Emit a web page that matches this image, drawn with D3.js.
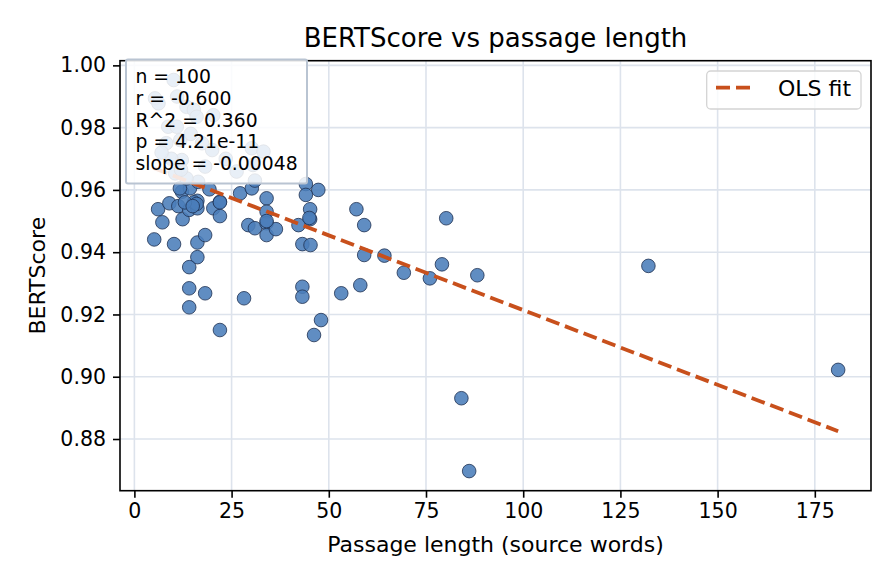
<!DOCTYPE html>
<html>
<head>
<meta charset="utf-8">
<script src="https://cdn.jsdelivr.net/npm/d3@7"></script>
<style>
  html, body { margin: 0; padding: 0; background: #ffffff; }
  svg { display: block; font-family: "DejaVu Sans", sans-serif; }
</style>
</head>
<body>
<svg id="chart" width="896" height="584"></svg>
<script>
// ---- Data ----
const passageLength = [
  80.2, 79.1, 69.3, 76.0, 88.2, 132.2, 181.0, 84.1, 86.1,
  44.1, 47.3, 44.1, 45.2, 45.2, 42.2, 43.2, 45.3, 57.1, 59.1, 59.1, 64.3,
  43.2, 43.2, 53.2, 58.1, 48.0, 46.2,
  6.1, 9.0, 11.3, 7.2, 12.4, 14.1, 16.2, 16.2, 15.3, 12.2, 14.3, 19.3, 20.3,
  22.0, 22.0, 27.2, 30.2, 31.0, 34.0, 34.0, 29.3, 31.0, 34.0, 34.0, 36.4,
  5.1, 10.2, 16.2, 18.2, 16.2, 14.1, 14.1, 18.2, 14.1, 28.2, 22.0, 11.7,
  16.4, 13.4,
  10.1, 5.3, 6.2, 13.4, 15.3, 20.3, 16.0, 8.7, 10.9, 11.8, 8.2, 17.4, 20.0,
  30.2, 33.2, 12.2, 30.5, 18.2, 26.3, 10.5, 12.0, 9.5, 7.0, 23.5, 14.5, 11.0,
  16.0, 13.0, 15.0, 45.0, 34.0, 22.0
];
const bertScore = [
  0.9509, 0.9361, 0.9334, 0.9316, 0.9326, 0.9356, 0.9022, 0.8931, 0.8697,
  0.9619, 0.9600, 0.9584, 0.9538, 0.9506, 0.9487, 0.9426, 0.9423, 0.9538, 0.9487, 0.9391, 0.9389,
  0.9289, 0.9257, 0.9268, 0.9294, 0.9182, 0.9134,
  0.9538, 0.9557, 0.9548, 0.9496, 0.9506, 0.9536, 0.9565, 0.9541, 0.9560, 0.9594, 0.9605, 0.9602, 0.9541,
  0.9562, 0.9516, 0.9589, 0.9605, 0.9630, 0.9573, 0.9530, 0.9487, 0.9477, 0.9493, 0.9455, 0.9474,
  0.9441, 0.9426, 0.9431, 0.9455, 0.9384, 0.9352, 0.9284, 0.9268, 0.9223, 0.9252, 0.9150, 0.9605,
  0.9626, 0.9637,
  0.9953, 0.9894, 0.9878, 0.9867, 0.9857, 0.9840, 0.9835, 0.9803, 0.9803, 0.9760, 0.9750, 0.9750, 0.9728,
  0.9734, 0.9723, 0.9696, 0.9680, 0.9675, 0.9659, 0.9653, 0.9665, 0.9700, 0.9720, 0.9700, 0.9780, 0.9900,
  0.9555, 0.9560, 0.9548, 0.9510, 0.9500, 0.9560
];
const fitParams = [0.9694, -0.00048];          // intercept, slope of the OLS fit
const xTicks = [0, 25, 50, 75, 100, 125, 150, 175];
const yTicks = [0.88, 0.90, 0.92, 0.94, 0.96, 0.98, 1.00];
const statsLines = ["n = 100", "r = -0.600", "R^2 = 0.360", "p = 4.21e-11", "slope = -0.00048"];
const legendLabels = ["OLS fit"];
const titleText = "BERTScore vs passage length";
const xLabelText = "Passage length (source words)";
const yLabelText = "BERTScore";

// ---- Layout ----
const L = 120, R = 871, T = 60.7, B = 490.7;
const svg = d3.select("#chart");
const x = d3.scaleLinear().domain([-3.70, 189.45]).range([L, R]);
const y = d3.scaleLinear().domain([0.8634, 1.0015]).range([B, T]);

const points = passageLength.map((v, i) => ({ x: v, y: bertScore[i] }));

// grid
const grid = svg.append("g");
grid.selectAll("line.gx").data(xTicks).join("line")
  .attr("x1", d => x(d)).attr("x2", d => x(d)).attr("y1", T).attr("y2", B)
  .attr("stroke", "#dde3ec").attr("stroke-width", 1.6);
grid.selectAll("line.gy").data(yTicks).join("line")
  .attr("y1", d => y(d)).attr("y2", d => y(d)).attr("x1", L).attr("x2", R)
  .attr("stroke", "#dde3ec").attr("stroke-width", 1.6);

// points
svg.append("g").selectAll("circle").data(points).join("circle")
  .attr("cx", d => x(d.x)).attr("cy", d => y(d.y)).attr("r", 6.8)
  .attr("fill", "#4a7dba").attr("fill-opacity", 0.88)
  .attr("stroke", "#1e3050").attr("stroke-width", 0.8);

// OLS fit line
const xmin = d3.min(passageLength), xmax = d3.max(passageLength);
const fitData = [xmin, xmax].map(v => ({ x: v, y: fitParams[0] + fitParams[1] * v }));
svg.append("path").datum(fitData)
  .attr("d", d3.line().x(d => x(d.x)).y(d => y(d.y)))
  .attr("fill", "none").attr("stroke", "#c8501c").attr("stroke-width", 3.8)
  .attr("stroke-dasharray", "14,6");

// axes
const xAxis = svg.append("g").attr("transform", `translate(0,${B})`)
  .call(d3.axisBottom(x).tickValues(xTicks).tickFormat(d3.format("d")).tickSizeOuter(0).tickSize(7).tickPadding(6));
const yAxis = svg.append("g").attr("transform", `translate(${L},0)`)
  .call(d3.axisLeft(y).tickValues(yTicks).tickFormat(d3.format(".2f")).tickSizeOuter(0).tickSize(7).tickPadding(7));
[xAxis, yAxis].forEach(a => {
  a.select(".domain").remove();
  a.selectAll(".tick line").attr("stroke", "#000").attr("stroke-width", 1.6);
  a.selectAll(".tick text").attr("font-size", 20.5).attr("fill", "#000")
    .attr("font-family", "DejaVu Sans");
});

// frame
svg.append("rect").attr("x", L).attr("y", T).attr("width", R - L).attr("height", B - T)
  .attr("fill", "none").attr("stroke", "#000").attr("stroke-width", 1.6);

// stats box
const sb = svg.append("g");
sb.append("rect").attr("x", 126).attr("y", 59.5).attr("width", 181).attr("height", 124)
  .attr("rx", 2).attr("fill", "#ffffff").attr("fill-opacity", 0.86)
  .attr("stroke", "#b9c4d2").attr("stroke-width", 2);
sb.selectAll("text").data(statsLines).join("text")
  .attr("x", 135.5).attr("y", (d, i) => 83.3 + i * 21.7)
  .attr("font-size", 18.8).attr("fill", "#000").text(d => d);

// legend
const lg = svg.append("g");
lg.append("rect").attr("x", 706.7).attr("y", 71).attr("width", 154.3).attr("height", 38)
  .attr("rx", 4).attr("fill", "#ffffff").attr("fill-opacity", 0.8)
  .attr("stroke", "#d4d4d4").attr("stroke-width", 1.3);
lg.append("line").attr("x1", 716).attr("x2", 754).attr("y1", 87.7).attr("y2", 87.7)
  .attr("stroke", "#c8501c").attr("stroke-width", 3.8).attr("stroke-dasharray", "14,6");
lg.append("text").attr("x", 778).attr("y", 95.8).attr("font-size", 22).text(legendLabels[0]);

// title & labels
svg.append("text").attr("x", (L + R) / 2).attr("y", 46.5).attr("text-anchor", "middle")
  .attr("font-size", 26).text(titleText);
svg.append("text").attr("x", (L + R) / 2).attr("y", 552).attr("text-anchor", "middle")
  .attr("font-size", 22).text(xLabelText);
svg.append("text").attr("transform", `translate(45,${(T + B) / 2}) rotate(-90)`)
  .attr("text-anchor", "middle").attr("font-size", 22).text(yLabelText);
</script>
</body>
</html>
